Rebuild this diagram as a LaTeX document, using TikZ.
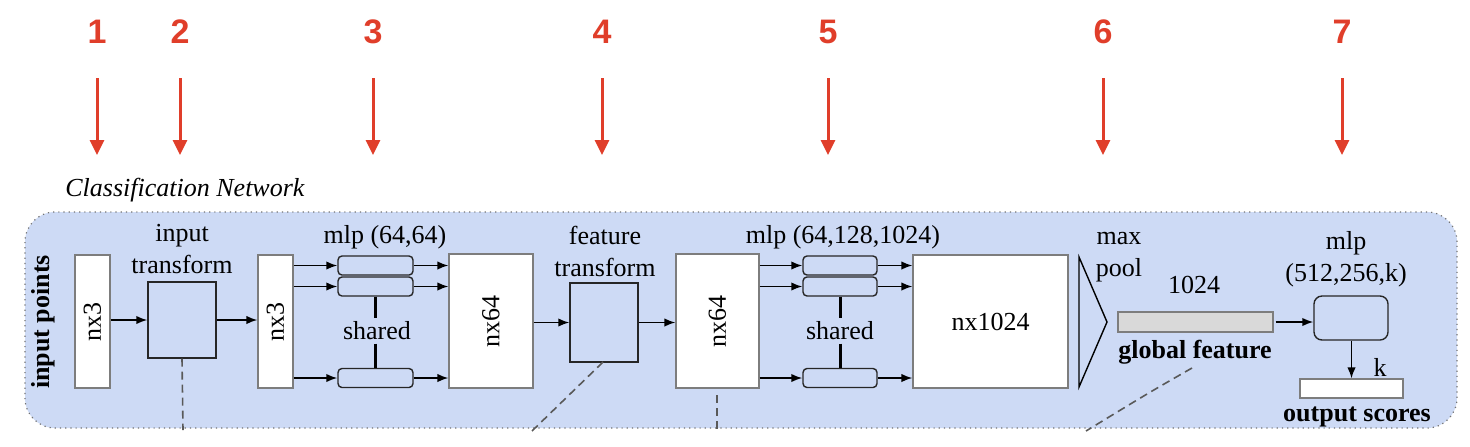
\documentclass[tikz,border=0pt]{standalone}
\usepackage{fontspec}
\setmainfont{Liberation Serif}
\newfontfamily\redfont{Liberation Sans}
\usetikzlibrary{arrows.meta,calc}
\definecolor{bgblue}{RGB}{205,218,245}
\definecolor{redmark}{RGB}{224,62,42}
\definecolor{boxgray}{RGB}{125,125,125}
\definecolor{barfill}{RGB}{217,217,217}
\begin{document}
\begin{tikzpicture}[x=0.5pt,y=-0.5pt,
  font=\fontsize{13}{16}\selectfont,
  wbox/.style={draw=boxgray, fill=white, line width=0.6pt, inner sep=0pt},
  tbox/.style={draw=black!85, fill=bgblue, line width=0.7pt, inner sep=0pt, minimum width=34pt},
  mbox/.style={draw=black!85, fill=bgblue, rounded corners=2pt, line width=0.7pt, inner sep=0pt, minimum height=9.5pt},
  arr/.style={-{Latex[length=5.5pt,width=4.2pt]}, line width=0.8pt},
  redarr/.style={draw=redmark, line width=1.5pt, -{Triangle[width=7pt,length=7.5pt]}},
  num/.style={text=redmark, font=\redfont\bfseries\fontsize{17}{17}\selectfont},
  dashline/.style={draw=black!65, line width=0.8pt, dash pattern=on 4pt off 2.5pt},
  sharedline/.style={line width=1.5pt},
  lbl/.style={align=center, inner sep=0pt},
  blbl/.style={align=center, inner sep=0pt, font=\bfseries\fontsize{13}{16}\selectfont}
]
\useasboundingbox (0,0) rectangle (1470,446);

% red numbers and arrows
\foreach \n/\x in {1/97,2/180,3/373,4/602,5/828,6/1103,7/1342}{
  \node[num] (num\n) at (\x,32) {\n};
  \coordinate (rs\n) at (\x,78);
  \coordinate (re\n) at (\x,155);
  \draw[redarr] (rs\n) -- (re\n);
}

% title
\node[anchor=west, inner sep=0pt, font=\itshape\fontsize{13}{16}\selectfont] (title) at (65,190) {Classification Network};

% background
\draw[draw=black!55, fill=bgblue, dotted, line width=0.6pt, rounded corners=15pt] (25,212) rectangle (1457,428);

% input points
\node[blbl, rotate=90] (ip) at (43,322) {input points};

% first nx3
\node[wbox, minimum width=17.5pt, minimum height=66.5pt] (b1) at (92.5,321.5) {};
\node[lbl, rotate=90] at (b1.center) {nx3};

% input transform
\node[tbox, minimum height=38pt] (it) at (182,320) {};
\node[lbl] (itl) at (182,249) {input\\transform};

% second nx3
\node[wbox, minimum width=17.5pt, minimum height=66.5pt] (b2) at (275.5,321.5) {};
\node[lbl, rotate=90] at (b2.center) {nx3};

% mlp (64,64)
\node[mbox, minimum width=37.5pt] (m1a) at (375.5,265.5) {};
\node[mbox, minimum width=37.5pt] (m1b) at (375.5,286.5) {};
\node[mbox, minimum width=37.5pt] (m1c) at (375.5,378) {};
\node[lbl] (m1l) at (385,237) {mlp (64,64)};
\node[lbl, inner sep=1.5pt] (sh1) at (377,331) {shared};

% nx64 a
\node[wbox, minimum width=42pt, minimum height=67pt] (n64a) at (491,321) {};
\node[lbl, rotate=90] at (n64a.center) {nx64};

% feature transform
\node[tbox, minimum height=39.5pt] (ft) at (604,322.5) {};
\node[lbl] (ftl) at (605,251) {feature\\transform};

% nx64 b
\node[wbox, minimum width=41.5pt, minimum height=67pt] (n64b) at (717.5,321) {};
\node[lbl, rotate=90] at (n64b.center) {nx64};

% mlp (64,128,1024)
\node[mbox, minimum width=37pt] (m2a) at (840,265.5) {};
\node[mbox, minimum width=37pt] (m2b) at (840,286.5) {};
\node[mbox, minimum width=37pt] (m2c) at (840,378) {};
\node[lbl] (m2l) at (843,237) {mlp (64,128,1024)};
\node[lbl, inner sep=1.5pt] (sh2) at (840,331) {shared};

% nx1024
\node[wbox, minimum width=77.5pt, minimum height=66.5pt] (n1024) at (990.5,321.5) {};
\node[lbl] at (n1024.center) {nx1024};

% max pool
\draw[line width=0.7pt] (1079,257) -- (1107,322) -- (1079,387) -- cycle;
\node[lbl] (mp) at (1119,257.5) {max\\pool};

% global feature
\node[draw=boxgray, fill=barfill, line width=0.6pt, inner sep=0pt, minimum width=77.5pt, minimum height=10pt] (gf) at (1195.5,322) {};
\node[lbl] (gfn) at (1194,285) {1024};
\node[blbl] (gfl) at (1195,352) {global feature};

% mlp (512,256,k)
\node[draw=black!85, fill=bgblue, rounded corners=4pt, line width=0.7pt, inner sep=0pt, minimum width=37pt, minimum height=22pt] (m3) at (1351,318) {};
\node[lbl] (m3l) at (1346,259) {mlp\\(512,256,k)};

% output
\node[wbox, minimum width=51.5pt, minimum height=9.5pt] (out) at (1351.5,388.5) {};
\node[lbl] (kl) at (1380,367) {k};
\node[blbl] (outl) at (1357,417) {output scores};

% connectors
\draw[arr] (b1.east |- it.west) -- (it.west);
\draw[arr] (it.east) -- (b2.west |- it.east);
\foreach \m in {m1a,m1b,m1c}{
  \draw[arr] (b2.east |- \m.west) -- (\m.west);
  \draw[arr] (\m.east) -- (n64a.west |- \m.east);
}
\draw[arr] (n64a.east |- ft.west) -- (ft.west);
\draw[arr] (ft.east) -- (n64b.west |- ft.east);
\foreach \m in {m2a,m2b,m2c}{
  \draw[arr] (n64b.east |- \m.west) -- (\m.west);
  \draw[arr] (\m.east) -- (n1024.west |- \m.east);
}
\draw[sharedline] (m1b.south) -- (m1b.south |- sh1.north);
\draw[sharedline] (m1c.north |- sh1.south) -- (m1c.north);
\draw[sharedline] (m2b.south) -- (m2b.south |- sh2.north);
\draw[sharedline] (m2c.north |- sh2.south) -- (m2c.north);
\draw[arr] (gf.east) ++(2,0) coordinate (gfe) (gfe) -- (m3.west |- gfe);
\draw[arr] (m3.south -| out.north) -- (out.north);

% dashed leaders
\coordinate (d1) at (183,430);
\coordinate (d2) at (532,431);
\coordinate (d3s) at (717,395);
\coordinate (d3) at (717,430);
\coordinate (d4s) at (1192,368);
\coordinate (d4) at (1086,431);
\draw[dashline] (it.south) -- (d1);
\draw[dashline] (603,362) -- (d2);
\draw[dashline] (d3s) -- (d3);
\draw[dashline] (d4s) .. controls (1150,392) .. (d4);
\end{tikzpicture}
\end{document}
